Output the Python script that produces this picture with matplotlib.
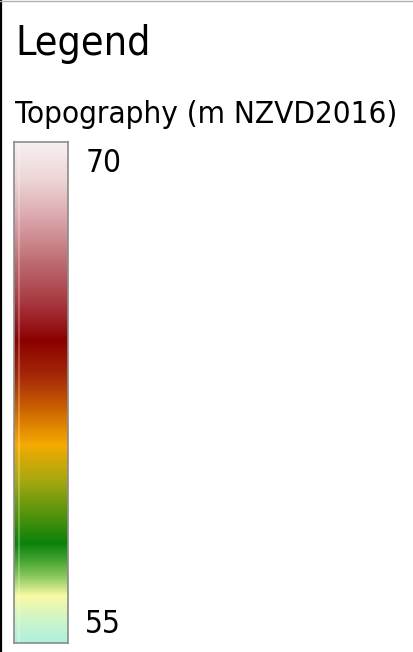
import numpy as np
import matplotlib.pyplot as plt
from matplotlib.colors import LinearSegmentedColormap
from matplotlib.transforms import offset_copy

# colour ramp stops (elevation in m NZVD2016, colour)
stop_values = [54.3, 54.9, 55.8, 56.5, 57.5, 59.6, 60.75, 61.9, 62.9, 64.15, 65.4, 66.7, 68.0, 69.3, 70.6]
stop_colors = ['#aef0de', '#c8f4cc', '#fafaa4', '#7cc254', '#0a820a', '#a8a810', '#f5aa00',
               '#cc6400', '#a82c08', '#8b0000', '#a83840', '#bc6c70', '#d8a0a6', '#ecd2d2', '#f6f0f0']
tick_values = [70, 55]
tick_labels = ['70', '55']
title = 'Legend'
layer_name = 'Topography (m NZVD2016)'

W, H = 414, 652
fig = plt.figure(figsize=(W / 100, H / 100), dpi=100)
fig.patch.set_facecolor('white')
font = dict(family='DejaVu Sans', fontstretch='condensed', color='black')

vmin, vmax = stop_values[0], stop_values[-1]
pos = [(v - vmin) / (vmax - vmin) for v in stop_values]
cmap = LinearSegmentedColormap.from_list('topo', list(zip(pos, stop_colors)))

# colour bar
ax = fig.add_axes([14 / W, (H - 643) / H, 54 / W, 501 / H])
grad = np.linspace(vmin, vmax, 500).reshape(-1, 1)
ax.imshow(grad, cmap=cmap, aspect='auto', origin='lower',
          extent=[0, 1, vmin, vmax], vmin=vmin, vmax=vmax, interpolation='bilinear')
ax.axvline(0.1, color='white', alpha=0.25, lw=1.5)
ax.set_xlim(0, 1)
ax.set_ylim(vmin, vmax)
ax.set_xticks([])
ax.set_yticks([])
for s in ax.spines.values():
    s.set_color('#8c8c8c')
    s.set_linewidth(1.2)

# labels: baseline sits ~11.5 px below the value position
lab_tr = offset_copy(ax.get_yaxis_transform(), fig=fig, x=0, y=-11.5, units='dots')
for v, lab in zip(tick_values, tick_labels):
    ax.text(1.32, v, lab, transform=lab_tr, fontsize=22.7, va='baseline', ha='left', **font)

# headings
fig.text(15 / W, 1 - 55 / H, title, fontsize=29.5, va='baseline', ha='left', **font)
fig.text(15 / W, 1 - 123 / H, layer_name, fontsize=22.5, va='baseline', ha='left', **font)

# frame lines (left dark edge, top grey edge)
fig.add_artist(plt.Line2D([1 / W, 1 / W], [0, 1], transform=fig.transFigure, color='black', lw=1.6))
fig.add_artist(plt.Line2D([0, 1], [1 - 0.5 / H, 1 - 0.5 / H], transform=fig.transFigure, color='#b0b0b0', lw=1.0))

fig.savefig('out.png', dpi=100)
